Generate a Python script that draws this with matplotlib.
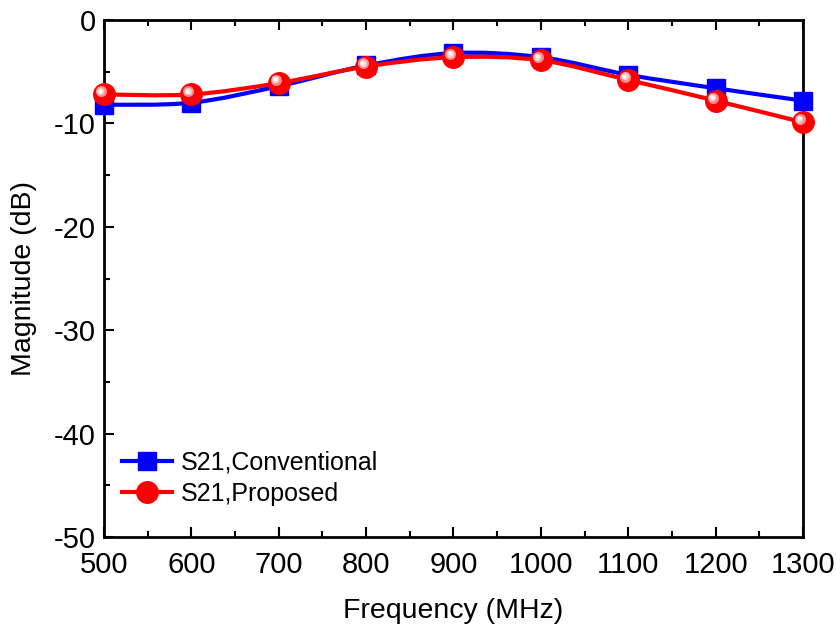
import numpy as np
import matplotlib
matplotlib.use("Agg")
import matplotlib.pyplot as plt
from matplotlib.path import Path
from matplotlib.patches import PathPatch
from matplotlib.transforms import offset_copy

freq = [500, 600, 700, 800, 900, 1000, 1100, 1200, 1300]
s21_conv = [-8.2, -8.0, -6.4, -4.4, -3.2, -3.6, -5.3, -6.6, -7.8]
s21_prop = [-7.2, -7.2, -6.1, -4.5, -3.6, -3.9, -5.8, -7.8, -9.9]
xticks = [500, 600, 700, 800, 900, 1000, 1100, 1200, 1300]
yticks = [0, -10, -20, -30, -40, -50]

plt.rcParams['font.family'] = ['Liberation Sans', 'DejaVu Sans']
plt.rcParams['axes.unicode_minus'] = False

fig = plt.figure(figsize=(8.37, 6.3), dpi=100)
ax = fig.add_axes([104/837, 1-537/630, (803-104)/837, (537-20)/630])

def smooth_path(x, y):
    x = np.asarray(x, float); y = np.asarray(y, float)
    verts = [(x[0], y[0])]; codes = [Path.MOVETO]
    n = len(x)
    for i in range(n-1):
        p0 = (x[max(i-1, 0)], y[max(i-1, 0)])
        p1 = (x[i], y[i]); p2 = (x[i+1], y[i+1])
        p3 = (x[min(i+2, n-1)], y[min(i+2, n-1)])
        c1 = (p1[0] + (p2[0]-p0[0])/6, p1[1] + (p2[1]-p0[1])/6)
        c2 = (p2[0] - (p3[0]-p1[0])/6, p2[1] - (p3[1]-p1[1])/6)
        verts += [c1, c2, p2]; codes += [Path.CURVE4]*3
    return Path(verts, codes)

for ys, col in [(s21_conv, 'blue'), (s21_prop, 'red')]:
    ax.add_patch(PathPatch(smooth_path(freq, ys), fill=False, edgecolor=col, lw=3, zorder=2, clip_on=False))

ax.plot(freq, s21_conv, ls='none', marker='s', ms=13.5, color='blue', zorder=3, clip_on=False)
ax.plot(freq, s21_prop, ls='none', marker='o', ms=15.5, color='red', zorder=4, clip_on=False)
tr1 = offset_copy(ax.transData, fig=fig, x=-2.2, y=2.2, units='points')
ax.plot(freq, s21_prop, ls='none', marker='o', ms=8, color='#ff8a8a', mec='none', transform=tr1, zorder=5, clip_on=False)
tr1b = offset_copy(ax.transData, fig=fig, x=-2.6, y=2.6, units='points')
ax.plot(freq, s21_prop, ls='none', marker='o', ms=5.5, color='#ffc8c8', mec='none', transform=tr1b, zorder=5, clip_on=False)
tr2 = offset_copy(ax.transData, fig=fig, x=-2.8, y=2.8, units='points')
ax.plot(freq, s21_prop, ls='none', marker='o', ms=3, color='white', mec='none', transform=tr2, zorder=6, clip_on=False)

# legend handles
h1, = ax.plot([], [], color='blue', lw=3, marker='s', ms=13.5)
h2, = ax.plot([], [], color='red', lw=3, marker='o', ms=15.5)
leg = ax.legend([h1, h2], ['S21,Conventional', 'S21,Proposed'], loc='lower left',
                bbox_to_anchor=(-0.01, 0.012), frameon=False, fontsize=18,
                handlelength=2.0, handletextpad=0.35, labelspacing=0.3, borderaxespad=0.6)

ax.set_xlim(500, 1300)
ax.set_ylim(-50, 0)
ax.set_xticks(xticks)
ax.set_yticks(yticks)
ax.set_xticks(np.arange(550, 1300, 100), minor=True)
ax.set_yticks(np.arange(-45, 0, 10), minor=True)
ax.tick_params(which='both', direction='in', labelsize=21, width=1.5, top=True, right=False)
ax.tick_params(which='major', length=7, pad=6)
ax.tick_params(axis='x', which='major', pad=10)
ax.tick_params(which='minor', length=4)
for s in ax.spines.values():
    s.set_linewidth(2)
ax.set_xlabel('Frequency (MHz)', fontsize=20.5, labelpad=14)
ax.set_ylabel('Magnitude (dB)', fontsize=20.5, labelpad=12)

fig.savefig('out.png', dpi=100)
